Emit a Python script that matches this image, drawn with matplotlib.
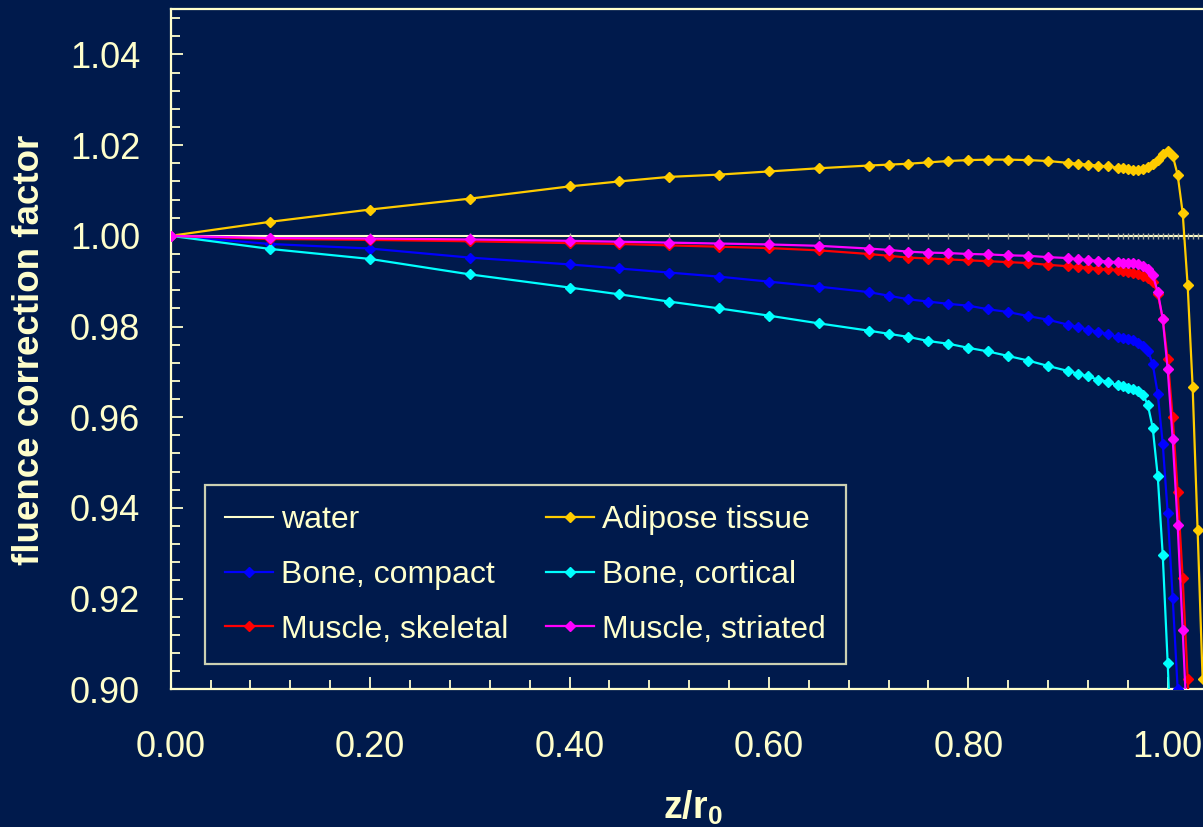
import matplotlib
matplotlib.use("Agg")
import matplotlib.pyplot as plt
from matplotlib.lines import Line2D
from matplotlib.ticker import MultipleLocator, FormatStrFormatter

plt.rcParams["font.family"] = ["Liberation Sans", "DejaVu Sans"]
plt.rcParams["mathtext.fontset"] = "custom"
plt.rcParams["mathtext.rm"] = "Liberation Sans"
plt.rcParams["mathtext.bf"] = "Liberation Sans:bold"

# depth grid z/r0 shared by all materials
z = [0.00, 0.10, 0.20, 0.30, 0.40, 0.45, 0.50, 0.55, 0.60, 0.65, 0.70, 0.72,
     0.74, 0.76, 0.78, 0.80, 0.82, 0.84, 0.86, 0.88, 0.90, 0.91, 0.92, 0.93,
     0.94, 0.95, 0.955, 0.96, 0.965, 0.97, 0.975, 0.98, 0.985, 0.99, 0.995,
     1.000, 1.005, 1.010, 1.015, 1.020, 1.025, 1.030, 1.035]

water = [1.0] * len(z)

adipose = [1.0000, 1.0031, 1.0058, 1.0082, 1.0109, 1.0120, 1.0130, 1.0135,
           1.0142, 1.0149, 1.0155, 1.0157, 1.0159, 1.0162, 1.0165, 1.0167,
           1.0168, 1.0168, 1.0167, 1.0165, 1.0161, 1.0159, 1.0157, 1.0155,
           1.0153, 1.0150, 1.0149, 1.0147, 1.0146, 1.0146, 1.0148, 1.0152,
           1.0158, 1.0168, 1.0180, 1.0188, 1.0177, 1.0134, 1.0051, 0.9891,
           0.9667, 0.9351, 0.9023]

bone_compact = [1.0000, 0.9982, 0.9972, 0.9952, 0.9937, 0.9928, 0.9919, 0.9910,
                0.9899, 0.9888, 0.9876, 0.9868, 0.9860, 0.9855, 0.9850, 0.9846,
                0.9838, 0.9832, 0.9823, 0.9815, 0.9804, 0.9799, 0.9793, 0.9788,
                0.9783, 0.9777, 0.9774, 0.9772, 0.9770, 0.9764, 0.9758, 0.9747,
                0.9717, 0.9652, 0.9542, 0.9388, 0.9202, 0.9000, 0.8780]

bone_cortical = [1.0000, 0.9971, 0.9949, 0.9915, 0.9886, 0.9871, 0.9855, 0.9840,
                 0.9824, 0.9807, 0.9791, 0.9784, 0.9777, 0.9768, 0.9762, 0.9753,
                 0.9745, 0.9735, 0.9725, 0.9713, 0.9702, 0.9696, 0.9690, 0.9683,
                 0.9678, 0.9670, 0.9668, 0.9665, 0.9662, 0.9658, 0.9650, 0.9628,
                 0.9576, 0.9470, 0.9297, 0.9057, 0.8800]

muscle_skeletal = [1.0000, 0.9993, 0.9991, 0.9988, 0.9984, 0.9982, 0.9979, 0.9976,
                   0.9973, 0.9968, 0.9960, 0.9956, 0.9952, 0.9950, 0.9948, 0.9946,
                   0.9944, 0.9942, 0.9940, 0.9936, 0.9933, 0.9931, 0.9930, 0.9927,
                   0.9926, 0.9924, 0.9923, 0.9921, 0.9919, 0.9916, 0.9911, 0.9906,
                   0.9898, 0.9872, 0.9817, 0.9729, 0.9600, 0.9435, 0.9246, 0.9023,
                   0.8800]

muscle_striated = [1.0000, 0.9995, 0.9994, 0.9992, 0.9989, 0.9987, 0.9985, 0.9983,
                   0.9981, 0.9978, 0.9972, 0.9969, 0.9965, 0.9963, 0.9962, 0.9960,
                   0.9959, 0.9957, 0.9956, 0.9953, 0.9951, 0.9948, 0.9947, 0.9945,
                   0.9943, 0.9942, 0.9941, 0.9940, 0.9939, 0.9937, 0.9934, 0.9926,
                   0.9913, 0.9877, 0.9817, 0.9706, 0.9552, 0.9362, 0.9131, 0.8890]

BG = "#001A4C"
FG = "#FFFFCC"

fig = plt.figure(figsize=(12.03, 8.27), dpi=100, facecolor=BG)
# plot area runs past the right edge of the figure
ax = fig.add_axes([0.1419, 0.1665, 1.2 * 997 / 1203, 0.8225], facecolor=BG)

ax.plot(z, water, color=FG, lw=1.5, marker="|", ms=4, mec="#A8A898", mew=1,
        zorder=2)

series = [
    ("Adipose tissue", adipose, "#FFCC00"),
    ("Bone, compact", bone_compact, "#0000FF"),
    ("Bone, cortical", bone_cortical, "#00FFFF"),
    ("Muscle, skeletal", muscle_skeletal, "#FF0000"),
    ("Muscle, striated", muscle_striated, "#FF00FF"),
]
handles = {"water": Line2D([], [], color=FG, lw=1.5)}
for name, vals, col in series:
    ax.plot(z[:len(vals)], vals, color=col, lw=1.6, marker="D", ms=5.5,
            mec=col, zorder=3)
    handles[name] = Line2D([], [], color=col, lw=1.6, marker="D", ms=5.5)

ax.set_xlim(0, 1.2)
ax.set_ylim(0.90, 1.05)
ax.xaxis.set_major_locator(MultipleLocator(0.2))
ax.xaxis.set_minor_locator(MultipleLocator(0.04))
ax.yaxis.set_major_locator(MultipleLocator(0.02))
ax.yaxis.set_minor_locator(MultipleLocator(0.004))
ax.xaxis.set_major_formatter(FormatStrFormatter("%.2f"))
ax.yaxis.set_major_formatter(FormatStrFormatter("%.2f"))
ax.set_yticks([0.90, 0.92, 0.94, 0.96, 0.98, 1.00, 1.02, 1.04])

for s in ["left", "bottom", "top"]:
    ax.spines[s].set_color(FG)
    ax.spines[s].set_linewidth(1.6)
ax.spines["right"].set_visible(False)

ax.tick_params(which="both", direction="in", color=FG, width=1.3,
               labelcolor=FG, labelsize=26, top=False, right=False)
ax.tick_params(which="major", length=8.5)
ax.tick_params(which="minor", length=6.5)
ax.tick_params(axis="x", which="major", pad=29)
ax.tick_params(axis="y", which="major", pad=22)

fig.text(30 / 1203, 1 - 350 / 827, "fluence correction factor", rotation=90,
         ha="center", va="center", color=FG, fontsize=26.5, fontweight="bold")
fig.text(693 / 1203, 1 - 808 / 827, r"$\mathbf{z/r_0}$", ha="center",
         va="center", color=FG, fontsize=27)

order = ["water", "Bone, compact", "Muscle, skeletal",
         "Adipose tissue", "Bone, cortical", "Muscle, striated"]
leg = ax.legend([handles[k] for k in order], order, ncol=2,
                loc="upper left", bbox_to_anchor=(205 / 1203, 1 - 485 / 827),
                bbox_transform=fig.transFigure, frameon=True, fancybox=False,
                facecolor=BG, edgecolor=FG, fontsize=23, handlelength=1.5,
                handletextpad=0.25, columnspacing=1.2, labelspacing=0.78,
                borderpad=0.62, borderaxespad=0)
leg.get_frame().set_linewidth(1.6)
for t in leg.get_texts():
    t.set_color(FG)

fig.savefig("out.png", dpi=100, facecolor=BG)
